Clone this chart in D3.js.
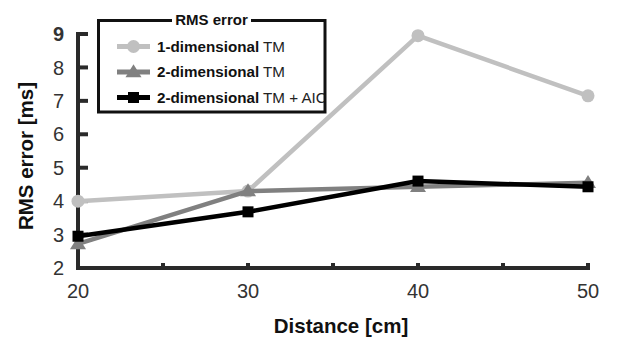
<!DOCTYPE html>
<html>
<head>
<meta charset="utf-8">
<script src="https://cdn.jsdelivr.net/npm/d3@7"></script>
<style>
  html, body { margin: 0; padding: 0; background: #fff; }
  svg { display: block; font-family: "Liberation Sans", Arial, sans-serif; }
</style>
</head>
<body>
<svg id="chart" width="617" height="338"></svg>
<script>
// Distance values on the x axis (cm)
const distances = [20, 30, 40, 50];
// RMS error (ms) per method
const oneDimTM = [4.0, 4.3, 8.95, 7.15];
const twoDimTM = [2.72, 4.3, 4.43, 4.55];
const twoDimTMAIC = [2.95, 3.68, 4.6, 4.43];
// Axis ticks
const xTicks = [20, 30, 40, 50];
const xMinorTicks = [25, 35, 45];
const yTicks = [2, 3, 4, 5, 6, 7, 8, 9];

const series = [
  { bold: "1-dimensional", rest: " TM", values: oneDimTM, color: "#c0c0c0", marker: "circle" },
  { bold: "2-dimensional", rest: " TM", values: twoDimTM, color: "#808080", marker: "triangle" },
  { bold: "2-dimensional", rest: " TM + AIC", values: twoDimTMAIC, color: "#000000", marker: "square" }
];

const svg = d3.select("#chart");
const x = d3.scaleLinear().domain([20, 50]).range([78, 588]);
const y = d3.scaleLinear().domain([2, 9]).range([268, 34]);
const axisColor = "#2a2a2a";

// Axes lines
svg.append("line").attr("x1", x(20)).attr("x2", x(50)).attr("y1", y(2)).attr("y2", y(2))
  .attr("stroke", axisColor).attr("stroke-width", 4).attr("stroke-linecap", "square");
svg.append("line").attr("x1", x(20)).attr("x2", x(20)).attr("y1", y(2)).attr("y2", y(9))
  .attr("stroke", axisColor).attr("stroke-width", 4).attr("stroke-linecap", "square");

// Y ticks (inward) and labels
const yAxis = svg.append("g");
yTicks.forEach(t => {
  yAxis.append("line").attr("x1", x(20)).attr("x2", x(20) + 10).attr("y1", y(t)).attr("y2", y(t))
    .attr("stroke", axisColor).attr("stroke-width", 4);
  yAxis.append("text").attr("x", 64).attr("y", y(t)).attr("dy", "0.36em")
    .attr("text-anchor", "end").attr("font-size", 20).attr("fill", "#333")
    .attr("font-weight", t === 9 ? "bold" : "normal").text(t);
});

// X ticks (inward), minor ticks and labels
const xAxis = svg.append("g");
xTicks.concat(xMinorTicks).forEach(t => {
  xAxis.append("line").attr("x1", x(t)).attr("x2", x(t)).attr("y1", y(2)).attr("y2", y(2) - 5)
    .attr("stroke", axisColor).attr("stroke-width", 4);
});
xTicks.forEach(t => {
  xAxis.append("text").attr("x", x(t)).attr("y", 298).attr("text-anchor", "middle")
    .attr("font-size", 20).attr("fill", "#333").text(t);
});

// Axis titles
svg.append("text").attr("x", 341).attr("y", 333).attr("text-anchor", "middle")
  .attr("font-size", 20.5).attr("font-weight", "bold").attr("fill", "#111").text("Distance [cm]");
svg.append("text").attr("transform", "translate(33,156) rotate(-90)").attr("text-anchor", "middle")
  .attr("font-size", 20.5).attr("font-weight", "bold").attr("fill", "#111").text("RMS error [ms]");

// Marker drawing helper
function drawMarker(g, type, cx, cy, color, scale) {
  const s = scale || 1;
  if (type === "circle") {
    g.append("circle").attr("cx", cx).attr("cy", cy).attr("r", 6.5 * s).attr("fill", color);
  } else if (type === "triangle") {
    const w = 8 * s, h = 13 * s;
    g.append("path").attr("d", `M${cx},${cy - h * 0.6}L${cx + w},${cy + h * 0.4}L${cx - w},${cy + h * 0.4}Z`)
      .attr("fill", color);
  } else {
    const a = 5.5 * s;
    g.append("rect").attr("x", cx - a).attr("y", cy - a).attr("width", 2 * a).attr("height", 2 * a).attr("fill", color);
  }
}

// Lines and markers
const line = d3.line().x((d, i) => x(distances[i])).y(d => y(d));
series.forEach(s => {
  const g = svg.append("g");
  g.append("path").datum(s.values).attr("d", line).attr("fill", "none")
    .attr("stroke", s.color).attr("stroke-width", 4.5).attr("stroke-linejoin", "round");
  s.values.forEach((v, i) => drawMarker(g, s.marker, x(distances[i]), y(v), s.color));
});

// Legend (entries clipped to the frame)
const lg = svg.append("g");
svg.append("defs").append("clipPath").attr("id", "legend-clip")
  .append("rect").attr("x", 98).attr("y", 20).attr("width", 227).attr("height", 92);
lg.append("rect").attr("x", 98.5).attr("y", 20.5).attr("width", 226.5).attr("height", 91.5)
  .attr("fill", "#fff");
const entries = lg.append("g").attr("clip-path", "url(#legend-clip)");
series.forEach((s, i) => {
  const cy = 46.5 + i * 25.5;
  entries.append("line").attr("x1", 117).attr("x2", 150).attr("y1", cy).attr("y2", cy)
    .attr("stroke", s.color).attr("stroke-width", 5);
  drawMarker(entries, s.marker, 133.5, cy, s.color, 1.0);
  const t = entries.append("text").attr("x", 157).attr("y", cy).attr("dy", "0.36em")
    .attr("font-size", 15.2).attr("fill", "#111");
  t.append("tspan").attr("font-weight", "bold").text(s.bold);
  t.append("tspan").attr("fill", "#222").text(s.rest);
});
lg.append("rect").attr("x", 98.5).attr("y", 20.5).attr("width", 226.5).attr("height", 91.5)
  .attr("fill", "none").attr("stroke", "#111").attr("stroke-width", 3);
lg.append("rect").attr("x", 172).attr("y", 12).attr("width", 79).attr("height", 16).attr("fill", "#fff");
lg.append("text").attr("x", 211.5).attr("y", 25).attr("text-anchor", "middle")
  .attr("font-size", 15).attr("font-weight", "bold").attr("fill", "#111").text("RMS error");
</script>
</body>
</html>
